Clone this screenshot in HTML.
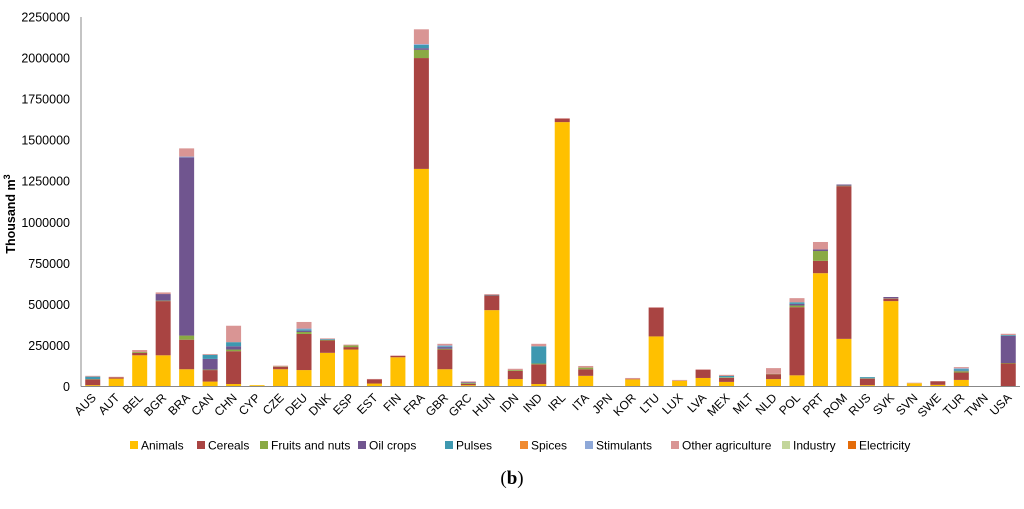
<!DOCTYPE html>
<html><head><meta charset="utf-8"><style>
body{margin:0;background:#fff;width:1024px;height:504px;overflow:hidden;font-family:"Liberation Sans",sans-serif}
</style></head><body>
<svg id="chart" width="1024" height="504" xmlns="http://www.w3.org/2000/svg"></svg>
<script>
const categories=["AUS","AUT","BEL","BGR","BRA","CAN","CHN","CYP","CZE","DEU","DNK","ESP","EST","FIN","FRA","GBR","GRC","HUN","IDN","IND","IRL","ITA","JPN","KOR","LTU","LUX","LVA","MEX","MLT","NLD","POL","PRT","ROM","RUS","SVK","SVN","SWE","TUR","TWN","USA"];
const seriesNames=["Animals","Cereals","Fruits and nuts","Oil crops","Pulses","Spices","Stimulants","Other agriculture","Industry","Electricity"];
const seriesColors=["#FFC000","#A94442","#8AAA44","#70558F","#3E98B0","#F08A30","#8EA8D8","#D99594","#C3D69B","#E46C0A"];
const animals=[8000,48000,190000,190000,105000,30000,15000,8000,105000,100000,205000,225000,18000,178000,1325000,105000,8000,465000,45000,15000,1610000,65000,0,43000,305000,35000,52000,28000,2000,45000,68000,690000,290000,8000,520000,20000,10000,40000,0,0];
const cereals=[35000,8000,15000,330000,180000,70000,200000,0,15000,220000,75000,15000,25000,8000,675000,120000,8000,90000,50000,120000,20000,40000,0,2000,175000,0,50000,25000,0,30000,415000,75000,930000,40000,15000,0,22000,45000,0,140000];
const fruits=[2000,0,5000,3000,25000,3000,10000,0,2000,12000,3000,10000,0,0,50000,5000,5000,0,5000,5000,0,10000,0,0,0,0,0,3000,0,2000,10000,60000,3000,2000,2000,0,0,8000,0,3000];
const oilCrops=[0,0,0,40000,1085000,65000,20000,0,0,8000,0,0,0,0,10000,10000,5000,0,0,0,0,0,0,0,0,0,0,0,0,0,10000,10000,7000,0,8000,0,0,3000,0,165000];
const pulses=[15000,0,0,0,0,25000,25000,0,0,8000,5000,0,0,0,20000,5000,0,3000,0,105000,0,0,0,0,0,0,0,8000,0,0,10000,0,0,7000,0,0,0,10000,0,5000];
const spices=[0,0,0,0,0,0,0,0,0,0,0,0,0,0,0,0,0,0,0,0,0,0,0,0,0,0,0,0,0,0,0,0,0,0,0,0,0,0,0,0];
const stimulants=[0,0,0,0,5000,0,0,0,0,5000,0,0,0,0,5000,5000,0,0,0,0,0,0,0,0,0,0,0,0,0,0,0,0,0,0,0,0,0,5000,0,0];
const otherAgri=[5000,3000,12000,10000,50000,5000,100000,0,5000,40000,5000,5000,3000,3000,90000,10000,5000,5000,8000,15000,5000,10000,0,7000,3000,5000,3000,7000,1000,35000,25000,45000,0,0,0,3000,0,7000,0,8000];
const industry=[0,0,0,0,0,0,0,0,0,0,0,0,0,0,0,0,0,0,0,0,0,0,0,0,0,0,0,0,0,0,0,0,0,0,0,0,0,0,0,0];
const electricity=[0,0,0,0,0,0,0,0,0,0,0,0,0,0,0,0,0,0,0,0,0,0,0,0,0,0,0,0,0,0,0,0,0,0,0,0,0,0,0,0];
const series=[animals,cereals,fruits,oilCrops,pulses,spices,stimulants,otherAgri,industry,electricity];
const yTicks=[0,250000,500000,750000,1000000,1250000,1500000,1750000,2000000,2250000];
const yTickLabels=["0","250000","500000","750000","1000000","1250000","1500000","1750000","2000000","2250000"];

const NS="http://www.w3.org/2000/svg";
const svg=document.getElementById('chart');
const X0=81,X1=1020,Y0=386.5,Y1=17,YMAX=2250000;
const band=(X1-X0)/categories.length;
function xScale(i){return X0+band*(i+0.5);}
function yScale(v){return Y0-(v/YMAX)*(Y0-Y1);}
function mk(tag,attrs){const e=document.createElementNS(NS,tag);for(const k in attrs)e.setAttribute(k,attrs[k]);svg.appendChild(e);return e;}

yTicks.forEach((t,i)=>{
  const e=mk('text',{x:70,y:yScale(t)+4.5,'text-anchor':'end','font-size':'12.5',fill:'#000'});
  e.textContent=yTickLabels[i];
  
  
});
categories.forEach((c,i)=>{
  let acc=0;
  series.forEach((s,k)=>{
    const v=s[i]; if(!v) return;
    const y=yScale(acc+v), h=yScale(acc)-y;
    const r=mk('rect',{x:xScale(i)-7.5,y:y,width:15,height:h,fill:seriesColors[k]});
    
    
    acc+=v;
  });
  const t=mk('text',{x:0,y:0,'text-anchor':'end','font-size':'12',fill:'#000',transform:`translate(${xScale(i)+4},${Y0+12}) rotate(-45)`});
  t.textContent=c;
  
  
});
const ya=mk('line',{x1:X0,y1:Y1,x2:X0,y2:Y0,stroke:'#888','stroke-width':1});


const xa=mk('line',{x1:X0,y1:Y0,x2:X1,y2:Y0,stroke:'#888','stroke-width':1});


const yt=mk('text',{x:0,y:0,'text-anchor':'middle','font-size':'12.5','font-weight':'bold',transform:'translate(15,214) rotate(-90)'});
yt.innerHTML='Thousand  m<tspan font-size="9" dy="-5">3</tspan>';


const legendX=[130,197,260,358,445,520,585,671,782,848];
seriesNames.forEach((n,k)=>{
  const r=mk('rect',{x:legendX[k],y:441,width:8,height:8,fill:seriesColors[k]});
  
  
  const t=mk('text',{x:legendX[k]+11,y:449.5,'font-size':'12',fill:'#000'});
  t.textContent=n;
  
  
});
const cap=mk('text',{x:512,y:484,'text-anchor':'middle','font-size':'19','font-family':'Liberation Serif, serif'});
cap.innerHTML='(<tspan font-weight="bold">b</tspan>)';


</script>
</body></html>
